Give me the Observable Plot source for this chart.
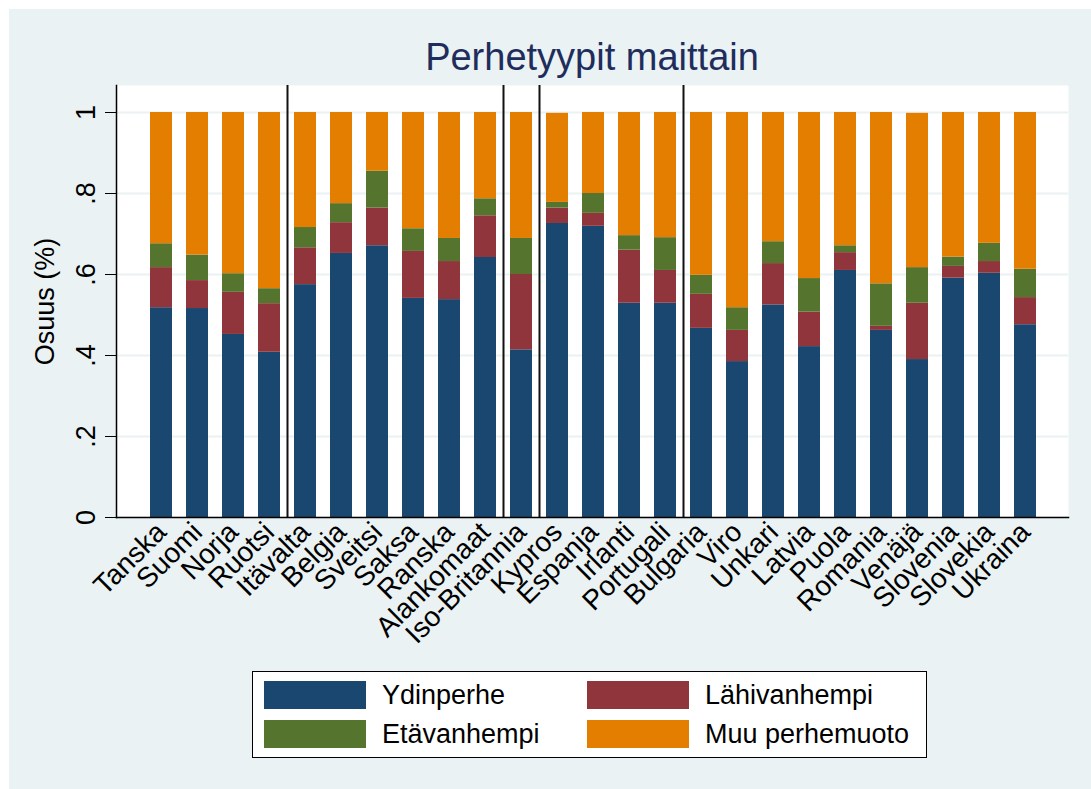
<!DOCTYPE html>
<html>
<head>
<meta charset="utf-8">
<script src="https://cdn.jsdelivr.net/npm/d3@7"></script>
<script src="https://cdn.jsdelivr.net/npm/@observablehq/plot@0.6"></script>
<style>
  html, body { margin: 0; padding: 0; background: #ffffff; }
  #wrap { position: absolute; left: 9px; top: 9px; width: 1082px; height: 780px; background: #eaf2f3; font-family: "Liberation Sans", Arial, sans-serif; }
  #title { position: absolute; left: 107px; width: 952px; top: 29px; text-align: center; font-size: 38px; line-height: 38px; color: #1f2d5c; }
  #chart { position: absolute; left: 0; top: 0; }
  #legend { position: absolute; left: 243px; top: 662px; width: 673px; height: 85px; background: #ffffff; border: 1px solid #000; }
  .sw { position: absolute; width: 102px; height: 28px; }
  .lt { position: absolute; font-size: 27px; line-height: 28px; color: #000; white-space: nowrap; }
</style>
</head>
<body>
<div id="wrap">
  <div id="chart"></div>
  <div id="title">Perhetyypit maittain</div>
  <div id="legend"></div>
</div>
<script>
const countries = ["Tanska","Suomi","Norja","Ruotsi","Itävalta","Belgia","Sveitsi","Saksa","Ranska","Alankomaat","Iso-Britannia","Kypros","Espanja","Irlanti","Portugali","Bulgaria","Viro","Unkari","Latvia","Puola","Romania","Venäjä","Slovenia","Slovekia","Ukraina"];
const ydinperhe    = [0.518,0.516,0.452,0.408,0.575,0.652,0.671,0.541,0.538,0.642,0.414,0.726,0.719,0.529,0.529,0.467,0.385,0.525,0.422,0.610,0.462,0.390,0.591,0.603,0.476];
const lahivanhempi = [0.099,0.069,0.104,0.120,0.091,0.076,0.093,0.116,0.094,0.103,0.186,0.038,0.032,0.131,0.081,0.084,0.077,0.102,0.085,0.044,0.010,0.139,0.029,0.029,0.067];
const etavanhempi  = [0.059,0.063,0.046,0.037,0.050,0.047,0.091,0.056,0.057,0.042,0.089,0.014,0.049,0.036,0.081,0.047,0.056,0.054,0.083,0.017,0.105,0.088,0.023,0.045,0.070];
const muuPerhemuoto= [0.324,0.352,0.398,0.435,0.284,0.225,0.145,0.287,0.311,0.213,0.311,0.220,0.200,0.304,0.309,0.402,0.482,0.319,0.410,0.329,0.423,0.381,0.357,0.323,0.387];
const seriesNames = ["Ydinperhe","Lähivanhempi","Etävanhempi","Muu perhemuoto"];
const seriesColors = ["#1a476f","#90353b","#55752f","#e37e00"];
const yTicks = [0, 0.2, 0.4, 0.6, 0.8, 1];
const yTickLabels = ["0", ".2", ".4", ".6", ".8", "1"];
const groupStarts = ["Itävalta", "Iso-Britannia", "Kypros", "Bulgaria"];
const yLabel = "Osuus (%)";

const seriesArrays = [ydinperhe, lahivanhempi, etavanhempi, muuPerhemuoto];
const rows = [];
countries.forEach((c, i) => {
  seriesArrays.forEach((arr, k) => rows.push({country: c, type: seriesNames[k], value: arr[i]}));
});

const plot = Plot.plot({
  width: 1082,
  height: 650,
  marginTop: 76,
  marginBottom: 142,
  marginLeft: 107,
  marginRight: 23,
  style: {background: "transparent", fontFamily: "'Liberation Sans', Arial, sans-serif", color: "#000"},
  x: {domain: countries, paddingInner: 0.39, paddingOuter: 0, insetLeft: 25, insetRight: 24, label: null},
  y: {domain: [0, 1.0667], label: null},
  color: {domain: seriesNames, range: seriesColors},
  marks: [
    Plot.frame({fill: "white", stroke: null}),
    Plot.gridY(yTicks, {stroke: "#eaf2f3", strokeOpacity: 1, strokeWidth: 2}),
    Plot.barY(rows, {x: "country", y: "value", fill: "type", order: seriesNames}),
    Plot.ruleX(groupStarts, {x: d => d, dx: -18, stroke: "#111", strokeWidth: 2}),
    Plot.axisY(yTicks, {tickFormat: (d, i) => yTickLabels[i], tickRotate: -90, tickSize: 11, tickPadding: 11, fontSize: 27, label: null}),
    Plot.axisX({tickRotate: -45, tickSize: 0, tickPadding: 10, fontSize: 28, label: null}),
    Plot.frame({anchor: "left", stroke: "#000", strokeWidth: 1.5}),
    Plot.frame({anchor: "bottom", stroke: "#000", strokeWidth: 1.5}),
    Plot.text([yLabel], {frameAnchor: "left", dx: -71, rotate: -90, fontSize: 27, textAnchor: "middle", text: d => d})
  ]
});
document.getElementById("chart").appendChild(plot);

// legend: row 1 Ydinperhe, Lähivanhempi; row 2 Etävanhempi, Muu perhemuoto
const legend = document.getElementById("legend");
const pos = [[11, 9], [334, 9], [11, 48], [334, 48]];
seriesNames.forEach((name, j) => {
  const [lx, ly] = pos[j];
  const sw = document.createElement("div");
  sw.className = "sw";
  sw.style.left = lx + "px"; sw.style.top = ly + "px";
  sw.style.background = seriesColors[j];
  legend.appendChild(sw);
  const t = document.createElement("div");
  t.className = "lt";
  t.style.left = (lx + 118) + "px"; t.style.top = ly + "px";
  t.textContent = name;
  legend.appendChild(t);
});
</script>
</body>
</html>
